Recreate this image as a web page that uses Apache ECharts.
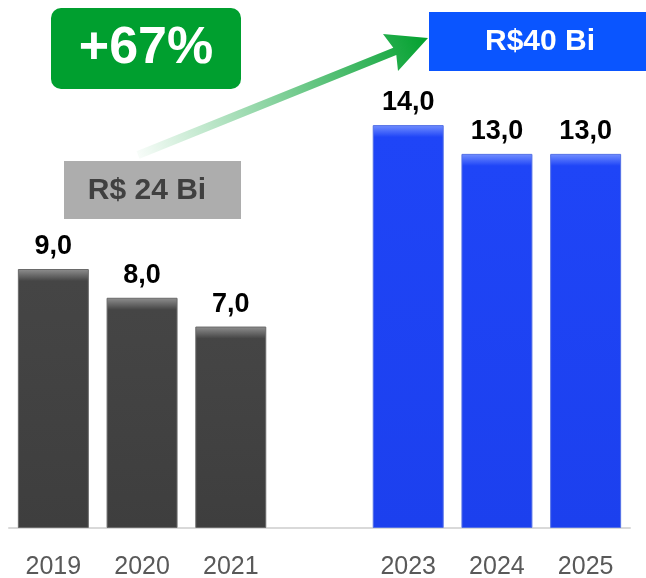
<!DOCTYPE html>
<html>
<head>
<meta charset="utf-8">
<script src="https://cdn.jsdelivr.net/npm/echarts@6/dist/echarts.min.js"></script>
<style>
  html, body { margin: 0; padding: 0; background: #fff; }
  #chart { width: 646px; height: 578px; }
</style>
</head>
<body>
<div id="chart"></div>
<script>
// anos (2022 fica vazio, só para abrir o espaço entre os grupos)
const years = ['2019', '2020', '2021', '', '2023', '2024', '2025']
const values = [9.0, 8.0, 7.0, null, 14.0, 13.0, 13.0]
const totalBefore = 'R$ 24 Bi'
const totalAfter = 'R$40 Bi'
const growth = '+67%'

const FONT = '"Liberation Sans", Arial, sans-serif'
const GRID_TOP = 10
const GRID_BOTTOM = 50
const Y_MAX = 18
const pxPerUnit = (578 - GRID_TOP - GRID_BOTTOM) / Y_MAX

// cor da barra: cinza para o período antigo, azul para o novo
function barStyle(year, v) {
  const old = Number(year) <= 2021
  const b = Math.min(0.2, 12 / (v * pxPerUnit))
  const c = old
    ? { hi: '#909090', base: '#454545', end: '#3e3e3e', border: '#6a6a6a' }
    : { hi: '#7390ff', base: '#1f45f7', end: '#1c40ee', border: '#5470e6' }
  return {
    color: new echarts.graphic.LinearGradient(0, 0, 0, 1, [
      { offset: 0, color: c.hi },
      { offset: b, color: c.base },
      { offset: 1, color: c.end }
    ]),
    borderColor: c.border,
    borderWidth: 1
  }
}

const chart = echarts.init(document.getElementById('chart'))

chart.setOption({
  animation: false,
  grid: {
    left: 9, right: 16, top: GRID_TOP, bottom: GRID_BOTTOM,
    containLabel: false, outerBoundsMode: 'none'
  },
  xAxis: {
    type: 'category',
    data: years,
    axisLine: { lineStyle: { color: '#d9d9d9', width: 2 } },
    axisTick: { show: false },
    axisLabel: { color: '#595959', fontSize: 25, fontFamily: FONT, margin: 27 }
  },
  yAxis: {
    type: 'value',
    min: 0,
    max: Y_MAX,
    show: false,
    splitLine: { show: false }
  },
  series: [
    {
      type: 'bar',
      barCategoryGap: '20%',
      data: values.map((v, i) => v == null ? null : { value: v, itemStyle: barStyle(years[i], v) }),
      label: {
        show: true,
        position: 'top',
        distance: 9,
        color: '#000',
        fontSize: 27,
        fontWeight: 'bold',
        fontFamily: FONT,
        formatter: p => p.value.toFixed(1).replace('.', ',')
      }
    }
  ],
  graphic: [
    // seta de crescimento
    {
      type: 'polygon',
      shape: {
        points: [
          [136.5, 151.3], [393.3, 47.7], [383, 34], [428, 38],
          [398, 71], [396.3, 55.1], [139.5, 158.7]
        ]
      },
      style: {
        fill: new echarts.graphic.LinearGradient(0, 1, 1, 0, [
          { offset: 0, color: 'rgba(0,160,50,0.02)' },
          { offset: 0.45, color: 'rgba(0,160,50,0.45)' },
          { offset: 1, color: 'rgba(0,160,45,1)' }
        ])
      }
    },
    // caixa +67%
    {
      type: 'rect',
      shape: { x: 51, y: 8, width: 190, height: 81, r: 10 },
      style: { fill: '#009f2f' }
    },
    {
      type: 'text',
      x: 146, y: 49,
      style: {
        text: growth, fill: '#fff', fontSize: 52, fontWeight: 'bold', fontFamily: FONT,
        align: 'center', verticalAlign: 'middle'
      }
    },
    // caixa R$ 24 Bi
    {
      type: 'rect',
      shape: { x: 64, y: 161, width: 177, height: 58 },
      style: { fill: '#adadad' }
    },
    {
      type: 'text',
      x: 147, y: 191,
      style: {
        text: totalBefore, fill: '#404040', fontSize: 30, fontWeight: 'bold', fontFamily: FONT,
        align: 'center', verticalAlign: 'middle'
      }
    },
    // caixa R$40 Bi
    {
      type: 'rect',
      shape: { x: 429, y: 12, width: 217, height: 59 },
      style: { fill: '#0a55ff' }
    },
    {
      type: 'text',
      x: 540, y: 42,
      style: {
        text: totalAfter, fill: '#fff', fontSize: 30, fontWeight: 'bold', fontFamily: FONT,
        align: 'center', verticalAlign: 'middle'
      }
    }
  ]
})
</script>
</body>
</html>
